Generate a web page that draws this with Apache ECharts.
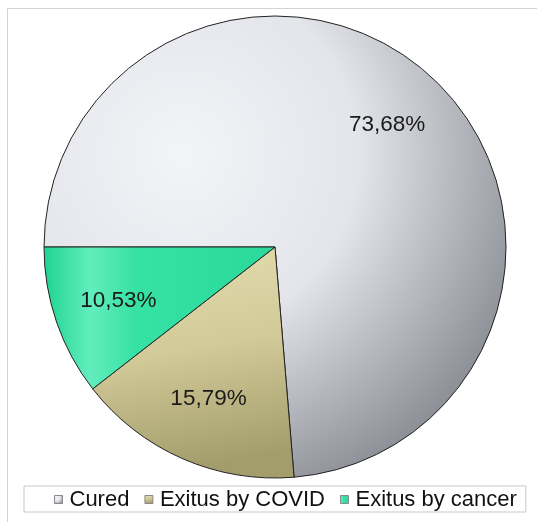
<!DOCTYPE html>
<html>
<head>
<meta charset="utf-8">
<script src="https://cdn.jsdelivr.net/npm/echarts@6/dist/echarts.min.js"></script>
<style>
html,body{margin:0;padding:0;background:#fff;}
#chart{width:537px;height:522px;}
</style>
</head>
<body>
<div id="chart"></div>
<script>
var categories = ['Cured', 'Exitus by COVID', 'Exitus by cancer'];
var counts = [14, 3, 2];

var fills = [
  {type:'radial', x:0.3, y:0.3, r:0.85, colorStops:[
    {offset:0, color:'#f3f4f8'},{offset:0.45, color:'#e3e5ea'},{offset:1, color:'#7e8188'}]},
  {type:'linear', x:0, y:0, x2:0.2, y2:1, colorStops:[
    {offset:0, color:'#e4ddb0'},{offset:0.5, color:'#d2ca98'},{offset:1, color:'#a39d6c'}]},
  {type:'linear', x:0, y:0, x2:1, y2:0, colorStops:[
    {offset:0, color:'#1ed492'},{offset:0.2, color:'#62edbd'},{offset:0.4, color:'#36e1a4'},{offset:1, color:'#2ad99b'}]}
];

var pieData = categories.map(function(c, i){
  return {name:c, value:counts[i], itemStyle:{color:fills[i]}};
});
var labelData = categories.map(function(c, i){
  return {name:c, value:counts[i]};
});

var chart = echarts.init(document.getElementById('chart'), null, {renderer:'canvas'});
chart.setOption({
  animation:false,
  graphic:[{type:'rect', shape:{x:7.5, y:8.5, width:560, height:560}, style:{fill:'none', stroke:'#d2d2d2', lineWidth:1}, z:-10}],
  legend:{
    data:categories,
    left:24, top:486,
    orient:'horizontal',
    icon:'rect', itemWidth:8, itemHeight:8, itemGap:15,
    padding:[2, 9, 1, 30],
    borderColor:'#c8c8c8', borderWidth:1, backgroundColor:'#fff',
    itemStyle:{borderColor:'#8a8a8a', borderWidth:1},
    textStyle:{fontFamily:'Liberation Sans, Arial, sans-serif', fontSize:22, color:'#111', lineHeight:23, padding:[0,0,0,2]}
  },
  series:[
    {
      type:'pie', name:'main',
      center:[275, 247], radius:[0, 231],
      startAngle:180, clockwise:true,
      avoidLabelOverlap:false,
      label:{show:false}, labelLine:{show:false},
      itemStyle:{borderColor:'#222', borderWidth:1},
      emphasis:{disabled:true},
      data:pieData
    },
    {
      type:'pie', name:'labels',
      center:[275, 247], radius:[94, 231],
      startAngle:180, clockwise:true, silent:true,
      avoidLabelOverlap:false,
      itemStyle:{color:'rgba(0,0,0,0)', borderWidth:0},
      label:{show:true, position:'inside',
        formatter:function(p){ return p.percent.toFixed(2).replace('.', ',') + '%'; },
        fontFamily:'Liberation Sans, Arial, sans-serif', fontSize:22.5, color:'#1a1a1a'},
      labelLine:{show:false},
      emphasis:{disabled:true},
      z:5,
      data:labelData
    }
  ]
});
</script>
</body>
</html>
